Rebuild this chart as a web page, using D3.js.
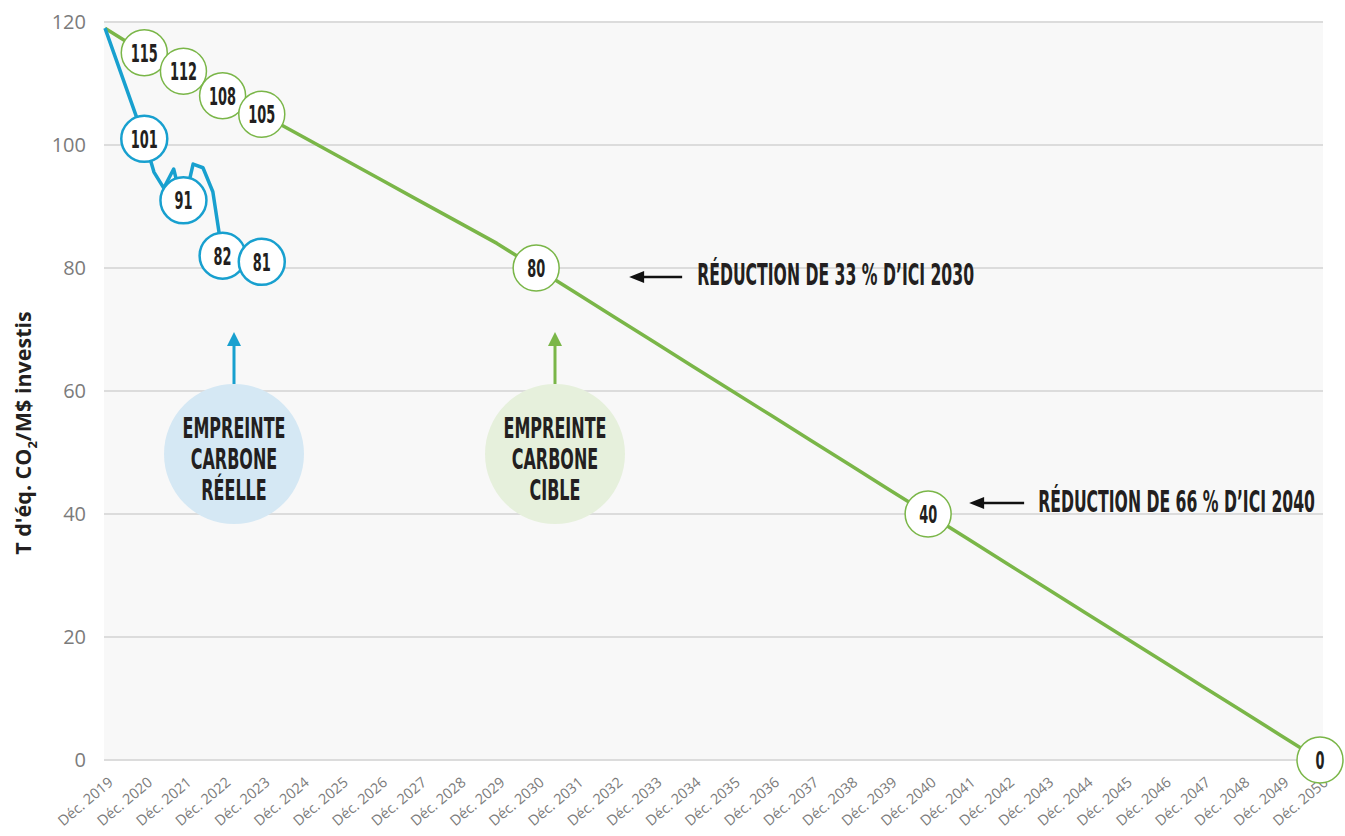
<!DOCTYPE html>
<html>
<head>
<meta charset="utf-8">
<title>Empreinte carbone</title>
<style type="text/css">
body {
	margin: 0;
	background: #ffffff;
}

.tick-label {
	font-family: "Open Sans", "Noto Sans", sans-serif;
	fill: #7b7b7b;
}

.cond {
	font-family: "Liberation Sans Narrow", "DejaVu Sans Condensed", sans-serif;
	font-weight: bold;
	fill: #231f20;
}
</style>
</head>
<body>

<div id="chart"></div>

<script src="https://cdnjs.cloudflare.com/ajax/libs/d3/7.8.5/d3.min.js"></script>

<script>
    // Data
    // ------------------------

    var tickYears = [2019, 2020, 2021, 2022, 2023, 2024, 2025, 2026, 2027, 2028, 2029,
        2030, 2031, 2032, 2033, 2034, 2035, 2036, 2037, 2038, 2039, 2040,
        2041, 2042, 2043, 2044, 2045, 2046, 2047, 2048, 2049, 2050];

    var yTicks = [0, 20, 40, 60, 80, 100, 120];

    // Target footprint (green)
    var targetDates = ['2019-12', '2020-12', '2021-12', '2022-12', '2023-12', '2024-12',
        '2025-12', '2026-12', '2027-12', '2028-12', '2029-12', '2030-12', '2031-12',
        '2032-12', '2033-12', '2034-12', '2035-12', '2036-12', '2037-12', '2038-12',
        '2039-12', '2040-12', '2041-12', '2042-12', '2043-12', '2044-12', '2045-12',
        '2046-12', '2047-12', '2048-12', '2049-12', '2050-12'];
    var targetValues = [119, 115, 112, 108, 105, 101.5, 98, 94.5, 91, 87.5, 84, 80, 76,
        72, 68, 64, 60, 56, 52, 48, 44, 40, 36, 32, 28, 24, 20, 16, 12, 8, 4, 0];

    // Actual footprint (blue)
    var actualDates = ['2019-12', '2020-12', '2021-03', '2021-06', '2021-09', '2021-10',
        '2021-12', '2022-03', '2022-06', '2022-09', '2022-12', '2023-12'];
    var actualValues = [119, 101, 95.6, 93, 96.1, 94, 90, 96.9, 96.3, 92.4, 82, 81];

    // Labelled points
    var targetLabelDates = ['2020-12', '2021-12', '2022-12', '2023-12', '2030-12', '2040-12', '2050-12'];
    var targetLabels = [115, 112, 108, 105, 80, 40, 0];
    var actualLabelDates = ['2020-12', '2021-12', '2022-12', '2023-12'];
    var actualLabels = [101, 91, 82, 81];

    var bubbleLines = [['EMPREINTE', 'CARBONE', 'RÉELLE'], ['EMPREINTE', 'CARBONE', 'CIBLE']];

    var noteTexts = ['RÉDUCTION DE 33 % D’ICI 2030', 'RÉDUCTION DE 66 % D’ICI 2040'];
    var noteDates = ['2030-12', '2040-12'];
    var noteValues = [80, 40];
</script>

<script>
    var width = 1345,
        height = 836;

    var green = '#7ab648',
        blue = '#18a0cf';

    var parse = d3.timeParse('%Y-%m');

    var x = d3.scaleTime()
        .domain([parse('2019-12'), parse('2050-12')])
        .range([105, 1320]);

    var y = d3.scaleLinear()
        .domain([0, 120])
        .range([760, 22]);

    var svg = d3.select('#chart').append('svg')
        .attr('width', width)
        .attr('height', height);

    // horizontal squeeze so the fallback font looks like the narrow original:
    // measure a sample string and return the x scale that gives the wanted width
    function squeeze(sample, fontSize, wanted) {
        var t = svg.append('text')
            .attr('class', 'cond')
            .style('font-size', fontSize + 'px')
            .text(sample);
        var w = t.node().getComputedTextLength();
        t.remove();
        return wanted / w;
    }

    // plot background
    svg.append('rect')
        .attr('x', 104)
        .attr('y', y(120))
        .attr('width', 1323 - 104)
        .attr('height', y(0) - y(120))
        .attr('fill', '#f8f8f8');

    // grid lines
    svg.append('g').selectAll('line')
        .data(yTicks)
        .enter()
        .append('line')
        .attr('x1', 104)
        .attr('x2', 1323)
        .attr('y1', function(d) { return y(d); })
        .attr('y2', function(d) { return y(d); })
        .attr('stroke', '#dcdcdc')
        .attr('stroke-width', 2);

    // y tick labels
    svg.append('g').selectAll('text')
        .data(yTicks)
        .enter()
        .append('text')
        .attr('class', 'tick-label')
        .attr('x', 86)
        .attr('y', function(d) { return y(d); })
        .attr('dy', '0.35em')
        .attr('text-anchor', 'end')
        .style('font-size', '20px')
        .text(function(d) { return d; });

    // x tick labels
    svg.append('g').selectAll('text')
        .data(tickYears)
        .enter()
        .append('text')
        .attr('class', 'tick-label')
        .attr('transform', function(d) {
            return 'translate(' + (x(parse(d + '-12')) + 9) + ',784) rotate(-40)';
        })
        .attr('text-anchor', 'end')
        .style('font-size', '14.5px')
        .text(function(d) { return 'Déc. ' + d; });

    // y axis title
    var title = svg.append('text')
        .attr('transform', 'translate(31,433) rotate(-90)')
        .attr('text-anchor', 'middle')
        .style('font-family', '"Open Sans", sans-serif')
        .style('font-weight', 'bold')
        .style('font-size', '21.5px')
        .attr('fill', '#231f20');
    title.append('tspan').text('T d\'éq. CO');
    title.append('tspan').attr('dy', 6).style('font-size', '13px').text('2');
    title.append('tspan').attr('dy', -6).text('/M$ investis');

    // lines
    var line = d3.line()
        .x(function(d) { return x(d.date); })
        .y(function(d) { return y(d.value); });

    var targetData = targetDates.map(function(d, i) {
        return { date: parse(d), value: targetValues[i] };
    });
    var actualData = actualDates.map(function(d, i) {
        return { date: parse(d), value: actualValues[i] };
    });

    svg.append('path')
        .datum(targetData)
        .attr('d', line)
        .attr('fill', 'none')
        .attr('stroke', green)
        .attr('stroke-width', 3.5)
        .attr('stroke-linejoin', 'round');

    svg.append('path')
        .datum(actualData)
        .attr('d', line)
        .attr('fill', 'none')
        .attr('stroke', blue)
        .attr('stroke-width', 3.5)
        .attr('stroke-linejoin', 'round');

    // labelled circles
    var circleSx = squeeze('115', 25, 27);

    function labelCircles(dates, labels, color, strokeWidth) {
        var g = svg.append('g').selectAll('g')
            .data(dates.map(function(d, i) { return { date: parse(d), value: labels[i] }; }))
            .enter()
            .append('g')
            .attr('transform', function(d) {
                return 'translate(' + x(d.date) + ',' + y(d.value) + ')';
            });

        g.append('circle')
            .attr('r', 23)
            .attr('fill', '#ffffff')
            .attr('stroke', color)
            .attr('stroke-width', strokeWidth);

        g.append('text')
            .attr('class', 'cond')
            .attr('transform', 'scale(' + circleSx + ',1)')
            .attr('text-anchor', 'middle')
            .attr('dy', '0.36em')
            .style('font-size', '25px')
            .text(function(d) { return d.value; });
    }

    labelCircles(targetLabelDates, targetLabels, green, 1.5);
    labelCircles(actualLabelDates, actualLabels, blue, 2.5);

    // legend bubbles with arrows
    var bubbleX = [234, 555],
        bubbleFill = ['#d5e8f4', '#e6f0dc'],
        bubbleArrow = [blue, green],
        bubbleSx = squeeze('EMPREINTE', 28, 103);

    bubbleLines.forEach(function(lines, i) {
        var g = svg.append('g')
            .attr('transform', 'translate(' + bubbleX[i] + ',454)');

        g.append('circle')
            .attr('r', 70)
            .attr('fill', bubbleFill[i]);

        g.append('line')
            .attr('x1', 0).attr('x2', 0)
            .attr('y1', -70).attr('y2', -110)
            .attr('stroke', bubbleArrow[i])
            .attr('stroke-width', 3);

        g.append('path')
            .attr('d', 'M0,-122L-7,-108L7,-108Z')
            .attr('fill', bubbleArrow[i]);

        g.selectAll('text')
            .data(lines)
            .enter()
            .append('text')
            .attr('class', 'cond')
            .attr('transform', function(d, j) {
                return 'translate(0,' + (-16 + j * 31) + ') scale(' + bubbleSx + ',1)';
            })
            .attr('text-anchor', 'middle')
            .style('font-size', '28px')
            .text(function(d) { return d; });
    });

    // reduction notes
    var noteLayout = [
        { arrowStart: 93, arrowEnd: 146, arrowDy: 9, textDx: 161, textDy: 17 },
        { arrowStart: 41, arrowEnd: 96, arrowDy: -11, textDx: 110, textDy: -2 }
    ];
    var noteSx = squeeze(noteTexts[0], 30, 277);

    noteTexts.forEach(function(t, i) {
        var cx = x(parse(noteDates[i])),
            cy = y(noteValues[i]),
            l = noteLayout[i];

        var ay = cy + l.arrowDy;

        svg.append('line')
            .attr('x1', cx + l.arrowStart + 10)
            .attr('x2', cx + l.arrowEnd)
            .attr('y1', ay)
            .attr('y2', ay)
            .attr('stroke', '#111')
            .attr('stroke-width', 2.5);

        svg.append('path')
            .attr('d', 'M' + (cx + l.arrowStart) + ',' + ay + 'l15,-6l0,12Z')
            .attr('fill', '#111');

        svg.append('text')
            .attr('class', 'cond')
            .attr('transform', 'translate(' + (cx + l.textDx) + ',' + (cy + l.textDy) + ') scale(' + noteSx + ',1)')
            .style('font-size', '30px')
            .text(t);
    });
</script>

</body>
</html>
